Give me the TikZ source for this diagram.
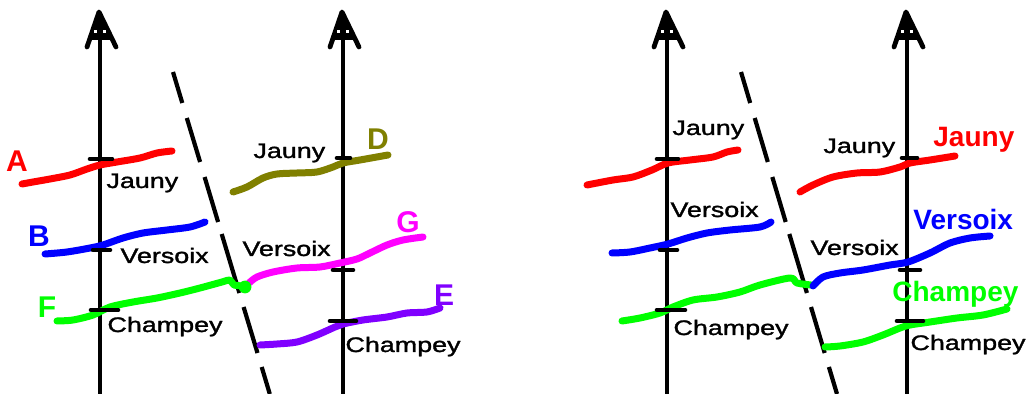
\documentclass[tikz,border=0pt]{standalone}
\usepackage{fontspec}
\setmainfont{Liberation Sans}
\newfontface\lblface{Liberation Sans}[FakeBold=1.3]
\definecolor{cRed}{RGB}{255,0,0}
\definecolor{cBlue}{RGB}{0,0,255}
\definecolor{cGreen}{RGB}{0,255,0}
\definecolor{cOlive}{RGB}{128,128,0}
\definecolor{cMagenta}{RGB}{255,0,255}
\definecolor{cViolet}{RGB}{128,0,255}
\begin{document}
\begin{tikzpicture}[x=0.5pt,y=-0.5pt,
  curve/.style={line width=3.5pt, line cap=round, line join=round},
  axisline/.style={line width=2pt},
  tickmark/.style={line width=2.3pt, line cap=round},
  cut/.style={line width=2.1pt},
  lbl/.style={font=\lblface\fontsize{10.5pt}{12pt}\selectfont, xscale=1.28, inner sep=0pt, anchor=base west},
  biglbl/.style={font=\bfseries\fontsize{14pt}{16pt}\selectfont, inner sep=0pt, anchor=base west},
  letter/.style={font=\bfseries\fontsize{15pt}{17pt}\selectfont, inner sep=0pt},
  vaxis/.pic={
    \draw[axisline] (0,394) -- (0,12);
    \fill (-1,12) -- (-10,38) -- (11,38) -- cycle;
    \draw[line width=2.4pt, line cap=round, line join=round] (-13,47) -- (-1,12) -- (16,47);
    \draw[line width=2.2pt] (-10,38) -- (12,38);
    \fill[white] (-6,30) rectangle (-3,33);
    \fill[white] (3,30) rectangle (6,33);
  }]
\useasboundingbox (0,0) rectangle (1031,394);
\fill[white] (0,0) rectangle (1031,394);

% ================= LEFT PANEL =================
\pic at (100,0) {vaxis};
\pic at (343,0) {vaxis};

% dashed cut line
\foreach \a/\b/\c/\d in {173/72/182.3/103, 186.8/118/200.1/162, 204.6/177/218.1/222,
    221.7/234/239.4/293, 243.6/307/257.5/353, 261.7/367/269.8/394}
  \draw[cut] (\a,\b) -- (\c,\d);

% curves
\draw[curve, cRed] plot[smooth, tension=0.5] coordinates {(22,184) (33,182) (50,179) (70,175) (87,169) (100,165) (117,162) (140,158) (157,153) (172,151)};
\draw[curve, cBlue] plot[smooth, tension=0.5] coordinates {(45,254) (67,252) (90,248) (103,245) (123,238) (143,233) (167,230) (190,227) (205,222)};
\draw[curve, cGreen] plot[smooth, tension=0.5] coordinates {(57,321) (73,320) (93,315) (110,307) (133,302) (157,298) (180,293) (200,288) (222,282) (230,280) (234,285) (245,286)};
\draw[curve, cOlive] plot[smooth, tension=0.5] coordinates {(233,192) (247,187) (263,178) (277,174) (297,173) (317,172) (333,167) (343,163) (360,160) (388,155)};
\draw[curve, cMagenta] plot[smooth, tension=0.5] coordinates {(249,283) (257,277) (273,272) (297,268) (320,267) (340,263) (357,259) (370,253) (387,245) (403,240) (423,237)};
\fill[cGreen] (245,287) circle[radius=3.2pt];
\draw[curve, cViolet] plot[smooth, tension=0.5] coordinates {(260,345) (277,344) (297,342) (317,335) (335,327) (343,324) (363,320) (387,317) (407,313) (427,312) (440,308)};

% ticks
\draw[tickmark] (90,159) -- (112,159);
\draw[tickmark] (93,250) -- (110,250);
\draw[tickmark] (91,310) -- (118,310);
\draw[tickmark] (337,158) -- (350,158);
\draw[tickmark] (333,270) -- (353,270);
\draw[tickmark] (330,321) -- (356,321);

% labels
\node[letter, text=cRed] (lA) at (17,161) {A};
\node[letter, text=cBlue] (lB) at (39,236) {B};
\node[letter, text=cGreen] (lF) at (47,307) {F};
\node[letter, text=cOlive] (lD) at (378,139) {D};
\node[letter, text=cMagenta] (lG) at (408,222) {G};
\node[letter, text=cViolet] (lE) at (444,295) {E};
\node[lbl] (j1) at (106,188) {Jauny};
\node[lbl] (v1) at (120,263) {Versoix};
\node[lbl] (c1) at (107,332) {Champey};
\node[lbl] (j2) at (253,158) {Jauny};
\node[lbl] (v2) at (242,256) {Versoix};
\node[lbl] (c2) at (345,352) {Champey};

% ================= RIGHT PANEL =================
\pic at (667,0) {vaxis};
\pic at (907,0) {vaxis};

\foreach \a/\b/\c/\d in {741/72/750.2/103, 754.7/118/767.8/162, 772.3/177/785.7/222,
    789.3/234/806.9/293, 811/307/824.7/353, 828.9/367/837/394}
  \draw[cut] (\a,\b) -- (\c,\d);

\draw[curve, cRed] plot[smooth, tension=0.5] coordinates {(587,185) (613,180) (633,177) (652,170) (668,163) (690,160) (713,157) (727,152) (738,150)};
\draw[curve, cBlue] plot[smooth, tension=0.5] coordinates {(612,253) (630,252) (650,248) (668,244) (687,238) (707,233) (730,230) (760,227) (771,222)};
\draw[curve, cGreen] plot[smooth, tension=0.5] coordinates {(622,321) (640,318) (660,313) (673,307) (693,300) (717,297) (740,292) (760,285) (790,278) (797,283) (811,285)};
\draw[curve, cBlue] plot[smooth, tension=0.5] coordinates {(813,286) (823,277) (840,273) (863,270) (890,265) (908,262) (930,253) (950,243) (970,238) (990,236)};
\draw[curve, cRed] plot[smooth, tension=0.5] coordinates {(800,192) (813,185) (833,177) (857,173) (880,172) (900,167) (910,163) (930,160) (955,156)};
\draw[curve, cGreen] plot[smooth, tension=0.5] coordinates {(825,347) (840,346) (863,342) (883,335) (900,328) (910,325) (930,322) (957,318) (983,315) (1007,309)};

\draw[tickmark] (657,159) -- (678,159);
\draw[tickmark] (660,250) -- (677,250);
\draw[tickmark] (657,310) -- (685,310);
\draw[tickmark] (902,158) -- (917,158);
\draw[tickmark] (900,270) -- (920,270);
\draw[tickmark] (897,321) -- (923,321);

\node[lbl] (j3) at (672,135) {Jauny};
\node[lbl] (v3) at (670,217) {Versoix};
\node[lbl] (c3) at (673,335) {Champey};
\node[lbl] (j4) at (823,153) {Jauny};
\node[lbl] (v4) at (810,255) {Versoix};
\node[lbl] (c4) at (910,350) {Champey};
\node[biglbl, text=cRed] (jr) at (933,147) {Jauny};
\node[biglbl, text=cBlue] (vr) at (913,230) {Versoix};
\node[biglbl, text=cGreen] (cr) at (892,302) {Champey};
\end{tikzpicture}
\end{document}
